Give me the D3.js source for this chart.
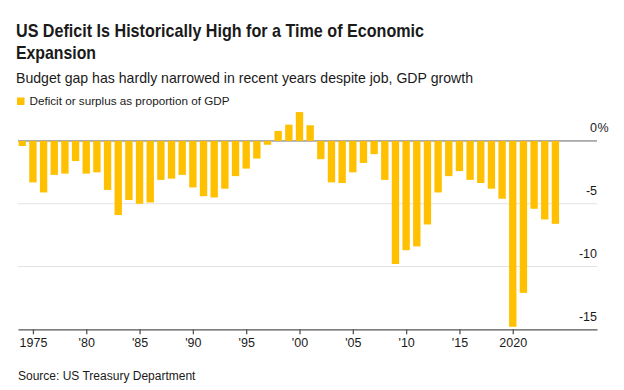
<!DOCTYPE html>
<html>
<head>
<meta charset="utf-8">
<script src="https://cdn.jsdelivr.net/npm/d3@7"></script>
<style>
  body { margin: 0; background: #fff; }
  svg text { font-family: "Liberation Sans", Arial, sans-serif; fill: #1a1a1a; }
</style>
</head>
<body>
<svg id="chart" width="624" height="390"></svg>
<script>
//Fiscal years shown as bars
var years = [1974, 1975, 1976, 1977, 1978, 1979, 1980, 1981, 1982, 1983,
  1984, 1985, 1986, 1987, 1988, 1989, 1990, 1991, 1992, 1993,
  1994, 1995, 1996, 1997, 1998, 1999, 2000, 2001, 2002, 2003,
  2004, 2005, 2006, 2007, 2008, 2009, 2010, 2011, 2012, 2013,
  2014, 2015, 2016, 2017, 2018, 2019, 2020, 2021, 2022, 2023, 2024];

//Deficit (-) or surplus (+) as % of GDP
var deficit = [-0.4, -3.3, -4.1, -2.7, -2.6, -1.6, -2.6, -2.5, -3.9, -5.9,
  -4.7, -5.0, -4.9, -3.1, -3.0, -2.7, -3.7, -4.4, -4.5, -3.8,
  -2.8, -2.2, -1.4, -0.3, 0.8, 1.3, 2.3, 1.25, -1.45, -3.3,
  -3.35, -2.5, -1.75, -1.05, -3.1, -9.8, -8.7, -8.4, -6.65, -4.1,
  -2.8, -2.4, -3.1, -3.35, -3.8, -4.6, -14.8, -12.1, -5.4, -6.25, -6.6];

var xTickYears = [1975, 1980, 1985, 1990, 1995, 2000, 2005, 2010, 2015, 2020];
var xTickLabels = ["1975", "'80", "'85", "'90", "'95", "'00", "'05", "'10", "'15", "2020"];

var yTicks = [0, -5, -10, -15];
var yTickLabels = ["0", "-5", "-10", "-15"];

var svg = d3.select("svg#chart");

//Scales
var x = d3.scaleLinear().domain([1973.6, 2027.9]).range([18, 597]);
var y = d3.scaleLinear().domain([-15, 3]).range([329.3, 103.3]);
var barWidth = (x(1976) - x(1975)) * 0.69;

//Title, subtitle and legend
svg.append("text")
    .attr("x", 16).attr("y", 36.5)
    .attr("font-size", 18.5).attr("font-weight", "bold")
    .attr("textLength", 408).attr("lengthAdjust", "spacingAndGlyphs")
    .text("US Deficit Is Historically High for a Time of Economic");
svg.append("text")
    .attr("x", 16).attr("y", 58.5)
    .attr("font-size", 18.5).attr("font-weight", "bold")
    .attr("textLength", 80).attr("lengthAdjust", "spacingAndGlyphs")
    .text("Expansion");
svg.append("text")
    .attr("x", 16).attr("y", 82.5)
    .attr("font-size", 14.5)
    .attr("textLength", 457).attr("lengthAdjust", "spacingAndGlyphs")
    .text("Budget gap has hardly narrowed in recent years despite job, GDP growth");
svg.append("rect")
    .attr("x", 17).attr("y", 97.5).attr("width", 7.5).attr("height", 7.5)
    .attr("fill", "#ffc000");
svg.append("text")
    .attr("x", 29.5).attr("y", 105)
    .attr("font-size", 11)
    .attr("textLength", 200).attr("lengthAdjust", "spacingAndGlyphs")
    .text("Deficit or surplus as proportion of GDP");

//Gridlines (the zero line is darker)
svg.append("g").selectAll("line")
  .data(yTicks.filter(function (d) { return d !== -15; }))
  .enter().append("line")
    .attr("x1", 18).attr("x2", 597)
    .attr("y1", function (d) { return y(d); })
    .attr("y2", function (d) { return y(d); })
    .attr("stroke", function (d) { return d === 0 ? "#666" : "#e2e2e2"; })
    .attr("stroke-width", 1);

//Y labels on the right, above their gridline
svg.append("g").selectAll("text")
  .data(yTicks)
  .enter().append("text")
    .attr("x", 597)
    .attr("y", function (d) { return y(d) - 8.5; })
    .attr("text-anchor", "end")
    .attr("font-size", 12.5)
    .text(function (d, i) { return yTickLabels[i]; });
svg.append("text")
    .attr("x", 597.5).attr("y", y(0) - 8.5)
    .attr("font-size", 12.5)
    .text("%");

//Bars
svg.append("g").selectAll("rect")
  .data(years)
  .enter().append("rect")
    .attr("x", function (d) { return x(d) - barWidth / 2; })
    .attr("width", barWidth)
    .attr("y", function (d, i) { return y(Math.max(0, deficit[i])); })
    .attr("height", function (d, i) { return Math.abs(y(deficit[i]) - y(0)); })
    .attr("fill", "#ffc000");

//X axis
var xAxis = svg.append("g")
    .attr("transform", "translate(0," + y(-15) + ")")
    .call(d3.axisBottom(x)
      .tickValues(xTickYears)
      .tickSize(5)
      .tickSizeOuter(0)
      .tickFormat(function (d, i) { return xTickLabels[i]; }));
xAxis.select(".domain").attr("stroke", "#555").attr("stroke-width", 1.3);
xAxis.selectAll(".tick line").attr("stroke", "#555").attr("stroke-width", 1.3);
xAxis.selectAll(".tick text")
    .attr("y", 17.5).attr("dy", 0)
    .attr("font-size", 12.5)
    .attr("font-family", "Liberation Sans, Arial, sans-serif")
    .attr("fill", "#1a1a1a");

//Source
svg.append("text")
    .attr("x", 18).attr("y", 379.5)
    .attr("font-size", 12)
    .text("Source: US Treasury Department");
</script>
</body>
</html>
